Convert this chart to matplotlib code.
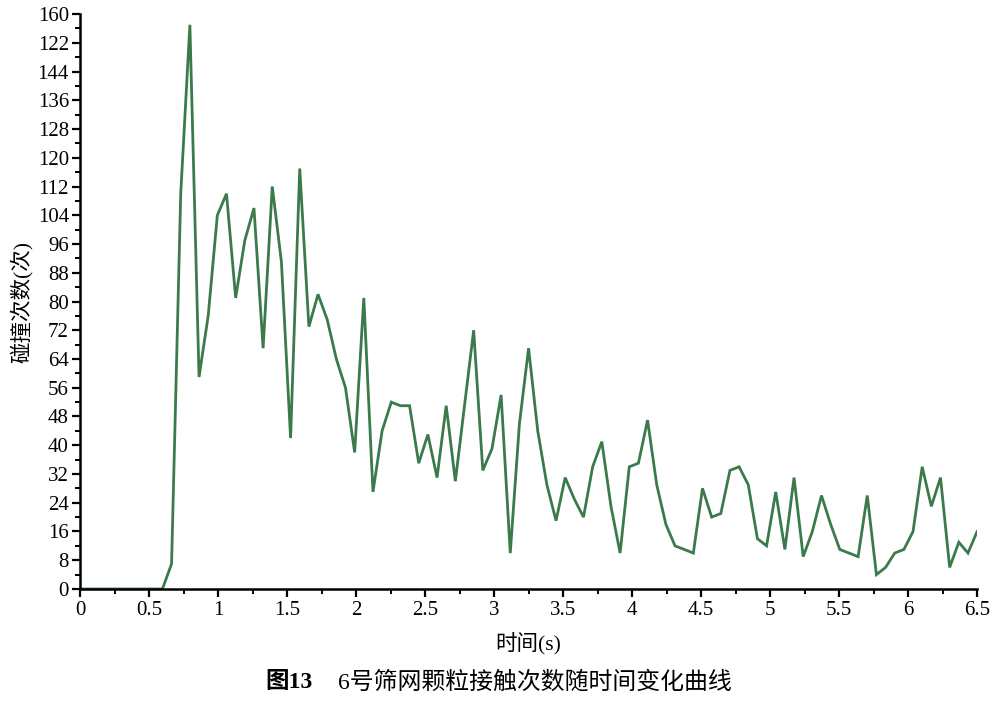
import numpy as np
import matplotlib
matplotlib.use("Agg")
import matplotlib.pyplot as plt
from matplotlib.ticker import MultipleLocator

plt.rcParams['font.family'] = ['Liberation Serif', 'Noto Sans CJK SC', 'DejaVu Sans']

# time stamps (99 samples over 0-6.5 s)
time_s = np.linspace(0, 6.5, 99)
contacts = [0, 0, 0, 0, 0, 0, 0, 0, 0, 0,
            7, 110, 157, 59, 76, 104, 110, 81, 97, 106,
            67, 112, 91, 42, 117, 73, 82, 75, 64, 56,
            38, 81, 27, 44, 52, 51, 51, 35, 43, 31,
            51, 30, 51, 72, 33, 39, 54, 10, 46, 67,
            44, 29, 19, 31, 25, 20, 34, 41, 23, 10,
            34, 35, 47, 29, 18, 12, 11, 10, 28, 20,
            21, 33, 34, 29, 14, 12, 27, 11, 31, 9,
            16, 26, 18, 11, 10, 9, 26, 4, 6, 10,
            11, 16, 34, 23, 31, 6, 13, 10, 16]

xtick_vals = [0, 0.5, 1, 1.5, 2, 2.5, 3, 3.5, 4, 4.5, 5, 5.5, 6, 6.5]
xtick_labels = ['0', '0.5', '1', '1.5', '2', '2.5', '3', '3.5', '4', '4.5', '5', '5.5', '6', '6.5']
ytick_vals = [0, 8, 16, 24, 32, 40, 48, 56, 64, 72, 80, 88, 96, 104, 112, 120, 128, 136, 144, 152, 160]
ytick_labels = ['0', '8', '16', '24', '32', '40', '48', '56', '64', '72', '80', '88', '96', '104',
                '112', '120', '128', '136', '144', '122', '160']

x_label = '时间(s)'
y_label = '碰撞次数(次)'
caption_bold = '图13'
caption_rest = '6号筛网颗粒接触次数随时间变化曲线'

fig = plt.figure(figsize=(9.93, 7.01), dpi=100)
ax = fig.add_axes([0.0806, 0.1598, 0.9034, 0.8202])

ax.plot(time_s, contacts, color='#3b7a4b', linewidth=2.0, solid_joinstyle='miter')

ax.set_xlim(0, 6.5)
ax.set_ylim(0, 160)
ax.set_xticks(xtick_vals)
ax.set_xticklabels(xtick_labels)
ax.set_yticks(ytick_vals)
ax.set_yticklabels(ytick_labels)
ax.xaxis.set_minor_locator(MultipleLocator(0.25))
ax.yaxis.set_minor_locator(MultipleLocator(4))

for s in ['top', 'right']:
    ax.spines[s].set_visible(False)
for s in ['left', 'bottom']:
    ax.spines[s].set_linewidth(1.8)
    ax.spines[s].set_color('black')

ax.tick_params(axis='both', which='major', direction='out', length=6, width=1.6,
               labelsize=15, colors='black', pad=3)
ax.tick_params(axis='both', which='minor', direction='out', length=3.5, width=1.4)
ax.tick_params(axis='y', which='major', pad=2)

ax.set_xlabel(x_label, fontsize=15.5, labelpad=9)
ax.set_ylabel(y_label, fontsize=15.5, labelpad=3)

fig.text(0.267, 0.027, caption_bold, fontsize=17, fontweight='bold', ha='left', va='center')
fig.text(0.340, 0.027, caption_rest, fontsize=17.2, ha='left', va='center')

fig.savefig('out.png', dpi=100)
